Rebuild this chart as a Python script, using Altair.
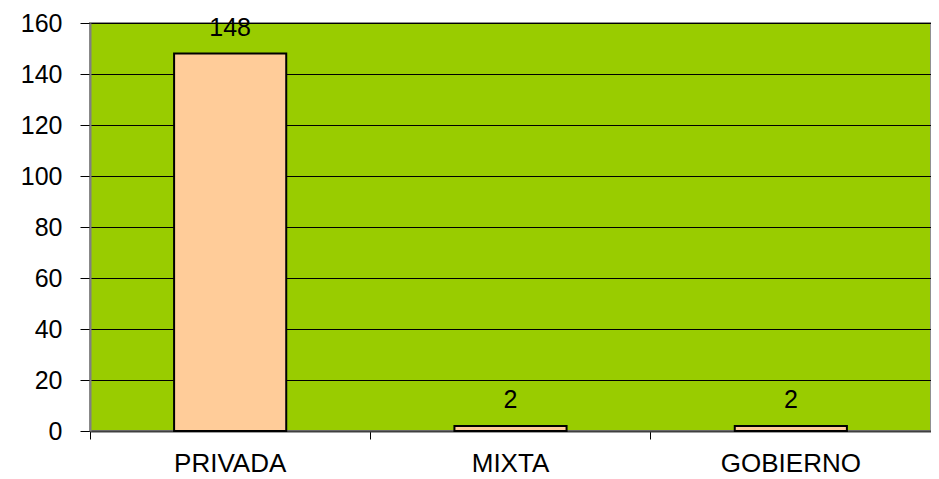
import altair as alt
import pandas as pd

categories = ["PRIVADA", "MIXTA", "GOBIERNO"]
values = [148, 2, 2]

df = pd.DataFrame({"cat": categories, "val": values})

FONT = "Liberation Sans"

x_enc = alt.X(
    "cat:N",
    sort=categories,
    title=None,
    scale=alt.Scale(paddingInner=0.6, paddingOuter=0.3),
    axis=alt.Axis(
        labelAngle=0,
        labelFont=FONT,
        labelFontSize=26,
        labelColor="black",
        labelPadding=11,
        tickSize=8,
        tickColor="black",
        bandPosition=-0.75,
        domainColor="#404040",
        domainWidth=2,
        grid=False,
    ),
)

y_enc = alt.Y(
    "val:Q",
    title=None,
    scale=alt.Scale(domain=[0, 160], nice=False),
    axis=alt.Axis(
        values=[0, 20, 40, 60, 80, 100, 120, 140, 160],
        labelFont=FONT,
        labelFontSize=25,
        labelColor="black",
        labelPadding=18,
        tickSize=10,
        tickColor="black",
        domainColor="#808080",
        domainWidth=2,
        grid=True,
        gridColor="black",
        gridWidth=1,
        gridOpacity=1,
    ),
)

bars = alt.Chart(df).mark_bar(
    fill="#FFCC99", stroke="black", strokeWidth=2
).encode(x=x_enc, y=y_enc)

labels = alt.Chart(df).mark_text(
    font=FONT, fontSize=25, color="black", baseline="alphabetic", dy=-18
).encode(x=alt.X("cat:N", sort=categories), y="val:Q", text="val:Q")

chart = (
    alt.layer(bars, labels)
    .properties(
        width=841,
        height=408,
        background="white",
        autosize=alt.AutoSizeParams(type="none"),
        padding={"left": 82, "top": 15, "right": 0, "bottom": 48},
    )
    .configure_view(fill="#99CC00", stroke="#909090", strokeWidth=2)
)

chart.save("out.html", embed_options={"renderer": "svg", "actions": False})
